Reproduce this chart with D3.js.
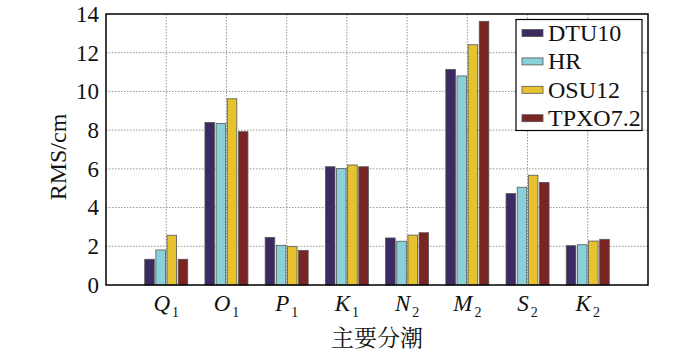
<!DOCTYPE html>
<html><head><meta charset="utf-8">
<script src="https://cdn.jsdelivr.net/npm/d3@7"></script>
<style>body{margin:0;background:#fff}svg{display:block}</style>
</head><body>
<script>
const categories = ["Q","O","P","K","N","M","S","K"];
const subscripts = ["1","1","1","1","2","2","2","2"];
const series = ["DTU10","HR","OSU12","TPXO7.2"];
const DTU10 = [1.33, 8.40, 2.46, 6.11, 2.43, 11.14, 4.72, 2.03];
const HR    = [1.81, 8.35, 2.05, 6.01, 2.26, 10.80, 5.05, 2.08];
const OSU12 = [2.57, 9.62, 1.98, 6.20, 2.58, 12.41, 5.67, 2.27];
const TPXO  = [1.33, 7.92, 1.79, 6.11, 2.70, 13.62, 5.30, 2.36];
const values = [DTU10, HR, OSU12, TPXO];
const colors = ["#3b2b62", "#8ad0d8", "#e6c22e", "#7b2424"];
const yTicks = [0,2,4,6,8,10,12,14];

const SERIF = "'Liberation Serif'";
const W = 700, H = 355;
const L = 106, R = 648, T = 14, B = 285;
const svg = d3.select("body").append("svg").attr("width", W).attr("height", H);

const x = d3.scaleLinear().domain([0, 9]).range([L, R]);
const y = d3.scaleLinear().domain([0, 14]).range([B, T]);
const x1 = d3.scaleBand().domain(series).range([-21.5, 21.5]).paddingInner(0.14);

// grid
const grid = svg.append("g").attr("stroke", "#777").attr("stroke-width", 0.8).attr("stroke-dasharray", "1.5,1.5");
yTicks.slice(1, -1).forEach(t => grid.append("line").attr("x1", L).attr("x2", R).attr("y1", y(t)).attr("y2", y(t)));
categories.forEach((c, i) => grid.append("line").attr("x1", x(i + 1)).attr("x2", x(i + 1)).attr("y1", T).attr("y2", B));

// bars
series.forEach((s, si) => {
  svg.append("g").selectAll("rect").data(values[si]).join("rect")
    .attr("x", (d, i) => x(i + 1) + x1(s))
    .attr("width", x1.bandwidth())
    .attr("y", d => y(d))
    .attr("height", d => B - y(d))
    .attr("fill", colors[si])
    .attr("stroke", "#555").attr("stroke-width", 0.8);
});

// frame
svg.append("rect").attr("x", L).attr("y", T).attr("width", R - L).attr("height", B - T)
  .attr("fill", "none").attr("stroke", "#000").attr("stroke-width", 1.5);

// y axis
const yAxis = svg.append("g").attr("transform", `translate(${L},0)`)
  .call(d3.axisLeft(y).tickValues(yTicks).tickSize(0).tickPadding(7));
yAxis.select(".domain").remove();
yAxis.attr("font-family", null);
yAxis.selectAll("text").style("font-family", SERIF).style("font-size", "23px").attr("fill", "#111");

// x axis labels
const xl = svg.append("g");
categories.forEach((c, i) => {
  const t = xl.append("text").attr("x", x(i + 1)).attr("y", 311).attr("text-anchor", "middle")
    .style("font-family", SERIF).style("font-size", "23px").attr("fill", "#111");
  t.append("tspan").style("font-style", "italic").text(c);
  t.append("tspan").style("font-size", "14px").attr("dy", 6).attr("dx", 2).text(subscripts[i]);
});

// axis titles
svg.append("text").attr("x", (L + R) / 2).attr("y", 346).attr("text-anchor", "middle")
  .style("font-family", "'Noto Serif CJK SC'").style("font-size", "23px").attr("fill", "#111").text("主要分潮");
svg.append("text").attr("transform", `translate(66,157) rotate(-90)`).attr("text-anchor", "middle")
  .style("font-family", SERIF).style("font-size", "24px").attr("fill", "#111").text("RMS/cm");

// legend
const lg = svg.append("g");
lg.append("rect").attr("x", 516).attr("y", 19.5).attr("width", 126).attr("height", 111)
  .attr("fill", "#fff").attr("stroke", "#000").attr("stroke-width", 1.2);
series.forEach((s, si) => {
  const cy = 33 + si * 28.4;
  lg.append("rect").attr("x", 522).attr("y", cy - 3.5).attr("width", 21).attr("height", 7)
    .attr("fill", colors[si]).attr("stroke", "#555").attr("stroke-width", 0.8);
  lg.append("text").attr("x", 548).attr("y", cy + 8).style("font-family", SERIF)
    .style("font-size", "24px").attr("fill", "#111").text(s);
});
</script>
</body></html>
